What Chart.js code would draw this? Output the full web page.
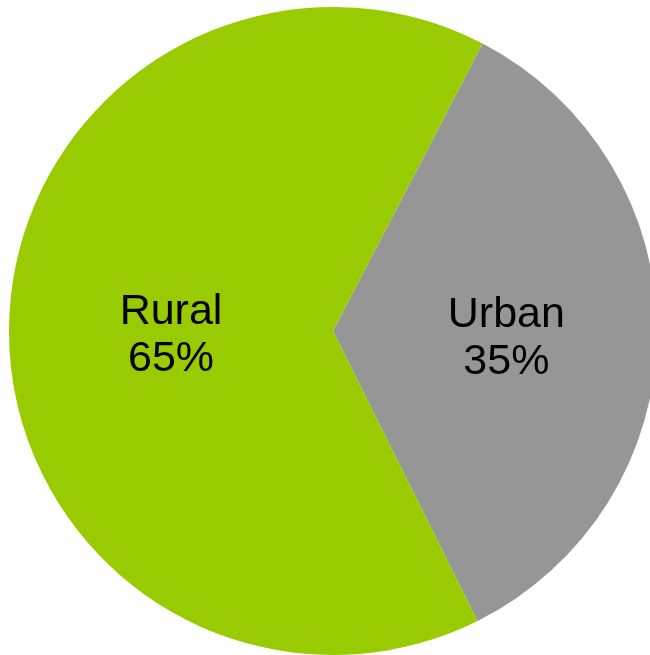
<!DOCTYPE html>
<html>
<head>
<meta charset="utf-8">
<script src="https://cdn.jsdelivr.net/npm/chart.js@4"></script>
<style>
html,body{margin:0;padding:0;background:#fff;overflow:hidden;width:650px;height:655px}
#wrap{position:absolute;left:0;top:0;width:666px;height:662px}
</style>
</head>
<body>
<div id="wrap"><canvas id="pieChart"></canvas></div>
<script>
const categories = ["Urban", "Rural"]
const shares = [35, 65]
const sliceColors = ["#969696", "#99cc00"]

// labels sit inside each slice, name on top and percent under it
const sliceLabels = {
  id: "sliceLabels",
  afterDatasetsDraw(chart, args, opts) {
    let ctx = chart.ctx
    let meta = chart.getDatasetMeta(0)
    ctx.save()
    ctx.font = "43px 'Liberation Sans', Arial, sans-serif"
    ctx.fillStyle = "#000"
    ctx.textAlign = "center"
    ctx.textBaseline = "alphabetic"
    meta.data.forEach(function(arc, i){
      let mid = (arc.startAngle + arc.endAngle) / 2
      let r = arc.outerRadius * opts.radius[i]
      let x = arc.x + Math.cos(mid) * r
      let y = arc.y + Math.sin(mid) * r
      ctx.fillText(categories[i], x, y - 6)
      ctx.fillText(shares[i] + "%", x, y + 41)
    })
    ctx.restore()
  }
}

new Chart(document.getElementById("pieChart"), {
  type: "pie",
  data: {
    labels: categories,
    datasets: [{
      data: shares,
      backgroundColor: sliceColors,
      borderWidth: 0
    }]
  },
  options: {
    responsive: true,
    maintainAspectRatio: false,
    animation: false,
    rotation: 27.5,
    layout: { padding: 7 },
    plugins: {
      legend: { display: false },
      tooltip: { enabled: false },
      sliceLabels: { radius: [0.535, 0.5] }
    }
  },
  plugins: [sliceLabels]
})
</script>
</body>
</html>
